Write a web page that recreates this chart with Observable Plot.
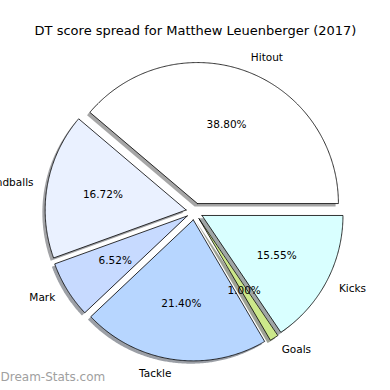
<!DOCTYPE html>
<html>
<head>
<meta charset="utf-8">
<script src="https://cdn.jsdelivr.net/npm/d3@7"></script>
<script src="https://cdn.jsdelivr.net/npm/@observablehq/plot@0.6"></script>
<style>
  html, body { margin: 0; padding: 0; background: #fff; }
  #chart svg { display: block; overflow: hidden; }
</style>
</head>
<body>
<div id="chart"></div>
<script>
const title = "DT score spread for Matthew Leuenberger (2017)";
const watermark = "Dream-Stats.com";
const labels = ["Hitout", "Handballs", "Mark", "Tackle", "Goals", "Kicks"];
const values = [38.80, 16.72, 6.52, 21.40, 1.00, 15.55];
const colors = ["#ffffff", "#eaf1ff", "#c7daff", "#b7d6ff", "#cce88a", "#d9ffff"];
const explode = [0.06, 0.06, 0.06, 0.06, 0.06, 0.06];

const W = 390, H = 390;
const cx = 194, cy = 211, R = 141; // pie centre and radius in pixels

const total = d3.sum(values);
const polys = [], shadows = [], labelPts = [], pctPts = [];
let acc = 0;
values.forEach((v, i) => {
  const t1 = acc / total * 2 * Math.PI;
  acc += v;
  const t2 = acc / total * 2 * Math.PI;
  const mid = (t1 + t2) / 2;
  const ox = explode[i] * Math.cos(mid), oy = explode[i] * Math.sin(mid);
  const n = Math.max(4, Math.ceil((t2 - t1) / (Math.PI / 360)));
  const pts = [[ox, oy]];
  for (let k = 0; k <= n; k++) {
    const t = t1 + (t2 - t1) * k / n;
    pts.push([ox + Math.cos(t), oy + Math.sin(t)]);
  }
  pts.push([ox, oy]);
  const c = d3.rgb(colors[i]);
  const sc = d3.rgb(c.r * 0.3, c.g * 0.3, c.b * 0.3).formatHex();
  pts.forEach(([x, y]) => {
    polys.push({label: labels[i], x, y, color: colors[i]});
    shadows.push({label: labels[i], x: x - 0.02, y: y - 0.02, color: sc});
  });
  const lx = ox + 1.1 * Math.cos(mid), ly = oy + 1.1 * Math.sin(mid);
  labelPts.push({label: labels[i], x: lx, y: ly, anchor: lx > 0 ? "start" : "end"});
  pctPts.push({text: (v / total * 100).toFixed(2) + "%", x: ox + 0.6 * Math.cos(mid), y: oy + 0.6 * Math.sin(mid)});
});

const font = "DejaVu Sans, Liberation Sans, sans-serif";
const chart = Plot.plot({
  width: W, height: H,
  margin: 0,
  style: {fontFamily: font, background: "#fff"},
  x: {domain: [-cx / R, (W - cx) / R], range: [0, W], axis: null},
  y: {domain: [-(H - cy) / R, cy / R], range: [H, 0], axis: null},
  color: {type: "identity"},
  marks: [
    Plot.line(shadows, {x: "x", y: "y", z: "label", fill: "color", fillOpacity: 0.5, stroke: "none", curve: "linear"}),
    Plot.line(polys, {x: "x", y: "y", z: "label", fill: "color", stroke: "#000", strokeWidth: 0.8, strokeLinejoin: "miter", curve: "linear"}),
    Plot.text(labelPts.filter(d => d.anchor === "start"), {x: "x", y: "y", text: "label", textAnchor: "start", fontSize: 10.5, fill: "#000"}),
    Plot.text(labelPts.filter(d => d.anchor === "end"), {x: "x", y: "y", text: "label", textAnchor: "end", fontSize: 10.5, fill: "#000"}),
    Plot.text(pctPts, {x: "x", y: "y", text: "text", textAnchor: "middle", fontSize: 10.5, fill: "#000"}),
    Plot.text([title], {frameAnchor: "top", dy: 25, text: d => d, fontSize: 13, fill: "#000"}),
    Plot.text([watermark], {frameAnchor: "bottom-left", dx: 0, dy: -10, text: d => d, textAnchor: "start", fontSize: 12, fill: "#a0a0a0"})
  ]
});
document.getElementById("chart").appendChild(chart);
</script>
</body>
</html>
